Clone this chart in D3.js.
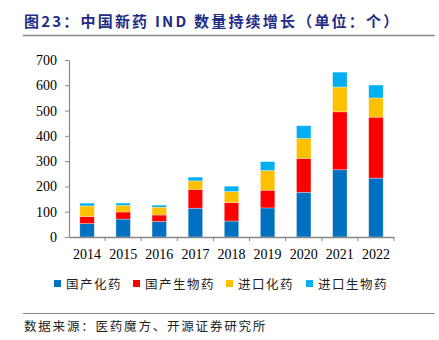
<!DOCTYPE html>
<html>
<head>
<meta charset="utf-8">
<script src="https://cdn.jsdelivr.net/npm/d3@7"></script>
<style>
  body { margin: 0; background: #fff; }
  svg { display: block; }
</style>
</head>
<body>
<div id="chart"></div>
<script>
// data
const years = ['2014', '2015', '2016', '2017', '2018', '2019', '2020', '2021', '2022'];
const domesticChem = [53, 71, 61, 114, 63, 115, 177, 266, 233];
const domesticBio = [28, 28, 26, 74, 73, 70, 134, 229, 241];
const importChem = [42, 26, 31, 34, 44, 78, 79, 98, 76];
const importBio = [11, 9, 8, 15, 21, 35, 50, 59, 51];
const seriesNames = ['国产化药', '国产生物药', '进口化药', '进口生物药'];
const yTicks = [0, 100, 200, 300, 400, 500, 600, 700];

const colors = ['#0070C0', '#FF0000', '#FFC000', '#00B0F0'];
const W = 439, H = 340;
const margin = { left: 69, right: 45, top: 60, bottom: 103 };

const svg = d3.select('#chart').append('svg')
  .attr('width', W).attr('height', H);

// title + rule
svg.append('text')
  .attr('x', 24).attr('y', 27)
  .attr('font-family', '"Noto Sans CJK SC", sans-serif')
  .attr('font-weight', 'bold')
  .attr('font-size', 15)
  .attr('letter-spacing', 2.2)
  .attr('fill', '#1F2D84')
  .text('图23：中国新药 IND 数量持续增长（单位：个）');
svg.append('line')
  .attr('x1', 23).attr('x2', 435).attr('y1', 35.5).attr('y2', 35.5)
  .attr('stroke', '#888').attr('stroke-width', 1.5);

const rows = years.map((y, i) => ({
  year: y,
  [seriesNames[0]]: domesticChem[i],
  [seriesNames[1]]: domesticBio[i],
  [seriesNames[2]]: importChem[i],
  [seriesNames[3]]: importBio[i]
}));
const stacked = d3.stack().keys(seriesNames)(rows);

const x = d3.scaleBand()
  .domain(years)
  .range([margin.left, W - margin.right])
  .paddingInner(0.6).paddingOuter(0.3);
const y = d3.scaleLinear()
  .domain([0, 700])
  .range([H - margin.bottom, margin.top]);

// bars
svg.append('g').selectAll('g')
  .data(stacked)
  .join('g')
  .attr('fill', (d, i) => colors[i])
  .selectAll('rect')
  .data(d => d)
  .join('rect')
  .attr('x', d => x(d.data.year))
  .attr('width', x.bandwidth())
  .attr('y', d => y(d[1]))
  .attr('height', d => y(d[0]) - y(d[1]))
  .attr('stroke', 'rgba(255,255,255,0.5)')
  .attr('stroke-width', 0.6);

// y axis
const yAxis = svg.append('g')
  .attr('transform', `translate(${margin.left},0)`)
  .call(d3.axisLeft(y).tickValues(yTicks).tickSize(4).tickSizeOuter(0).tickPadding(8));
yAxis.select('.domain').attr('stroke', '#888').attr('stroke-width', 1.2);
yAxis.selectAll('.tick line').attr('stroke', '#888');
yAxis.selectAll('text')
  .attr('font-family', '"Liberation Serif", serif')
  .attr('font-size', 14)
  .attr('fill', '#000');

// x axis, ticks sit between categories
const xAxis = svg.append('g')
  .attr('transform', `translate(0,${H - margin.bottom})`)
  .call(d3.axisBottom(x).tickSize(0).tickPadding(12));
xAxis.select('.domain').attr('stroke', '#888').attr('stroke-width', 1.5);
xAxis.selectAll('text')
  .attr('font-family', '"Liberation Serif", serif')
  .attr('font-size', 14)
  .attr('fill', '#000');
const step = x.step();
xAxis.selectAll('.sep')
  .data(years)
  .join('line')
  .attr('x1', (d, i) => margin.left + step * (i + 1))
  .attr('x2', (d, i) => margin.left + step * (i + 1))
  .attr('y1', 0).attr('y2', 4)
  .attr('stroke', '#888');

// legend
const legendX = [54, 133, 226, 306];
const legend = svg.append('g').attr('transform', 'translate(0,284)');
seriesNames.forEach((name, i) => {
  legend.append('rect')
    .attr('x', legendX[i]).attr('y', -4)
    .attr('width', 7).attr('height', 7)
    .attr('fill', colors[i]);
  legend.append('text')
    .attr('x', legendX[i] + 12).attr('y', 5)
    .attr('font-family', '"Noto Sans CJK SC", sans-serif')
    .attr('font-size', 12.5)
    .attr('letter-spacing', 1.5)
    .attr('fill', '#222')
    .text(name);
});

// source
svg.append('line')
  .attr('x1', 23).attr('x2', 435).attr('y1', 313.5).attr('y2', 313.5)
  .attr('stroke', '#888').attr('stroke-width', 1.2);
svg.append('text')
  .attr('x', 24).attr('y', 331)
  .attr('font-family', '"Noto Sans CJK SC", sans-serif')
  .attr('font-size', 12.5)
  .attr('letter-spacing', 1.8)
  .attr('fill', '#222')
  .text('数据来源：医药魔方、开源证券研究所');
</script>
</body>
</html>
